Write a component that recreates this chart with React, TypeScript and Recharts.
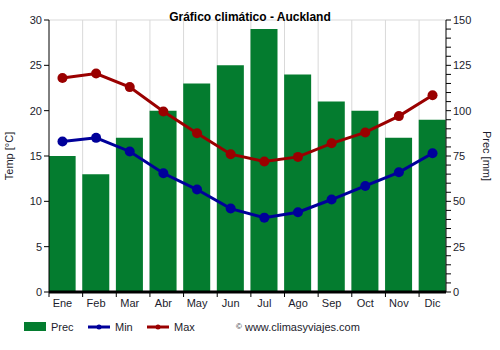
import React from "react";
import {
  ComposedChart,
  Bar,
  Line,
  XAxis,
  YAxis,
  CartesianGrid,
} from "recharts";

const months = ["Ene", "Feb", "Mar", "Abr", "May", "Jun", "Jul", "Ago", "Sep", "Oct", "Nov", "Dic"];
const precip = [75, 65, 85, 100, 115, 125, 145, 120, 105, 100, 85, 95];
const tMin = [16.6, 17.0, 15.5, 13.1, 11.3, 9.2, 8.2, 8.8, 10.2, 11.7, 13.2, 15.3];
const tMax = [23.6, 24.1, 22.6, 19.9, 17.5, 15.2, 14.4, 14.9, 16.4, 17.6, 19.4, 21.7];
const tempTicks = [0, 5, 10, 15, 20, 25, 30];
const precTicks = [0, 5, 10, 15, 20, 25, 30, 35, 40, 45, 50, 55, 60, 65, 70, 75, 80, 85, 90, 95, 100, 105, 110, 115, 120, 125, 130, 135, 140, 145, 150];

const data = months.map((m, i) => ({ idx: i, month: m, prec: precip[i], min: tMin[i], max: tMax[i] }));

const GREEN = "#047c2f";
const NAVY = "#00009a";
const RED = "#9a0000";
const FONT = "'Liberation Sans', Arial, sans-serif";
const TEXT = "#1c1c2c";

// category boundaries sit at the left edge of each bar
const DOMAIN: [number, number] = [-0.4, 11.4];
const boundaries = months.map((_, i) => i - 0.4);
const xTicks = [...months.map((_, i) => i), ...boundaries];

const XTick = (props: any) => {
  const { x, y, payload } = props;
  const v = payload.value;
  if (Number.isInteger(v)) {
    return (
      <text x={x} y={y} dy="0.71em" textAnchor="middle" fontSize={11} fontFamily={FONT} fill={TEXT}>
        {months[v]}
      </text>
    );
  }
  return <line x1={x} x2={x} y1={y - 7} y2={y - 2} stroke="#000" strokeWidth={1} />;
};

const RightTick = (props: any) => {
  const { x, y, payload } = props;
  const v = payload.value;
  const major = v % 25 === 0;
  return (
    <g>
      <line x1={x - 7} x2={x - 2} y1={y} y2={y} stroke="#000" strokeWidth={1} />
      {major && (
        <text x={x} y={y} dy="0.36em" textAnchor="start" fontSize={11} fontFamily={FONT} fill={TEXT}>
          {v}
        </text>
      )}
    </g>
  );
};

export default function App() {
  return (
    <div style={{ position: "absolute", left: 0, top: 0, width: 500, height: 350, background: "#fff", fontFamily: FONT }}>
      <ComposedChart
        width={500}
        height={350}
        data={data}
        margin={{ top: 20, right: 0, bottom: 38, left: 0 }}
      >
        <CartesianGrid
          stroke="#d9d9d9"
          strokeWidth={1}
          verticalCoordinatesGenerator={({ offset }: any) =>
            boundaries
              .slice(1)
              .map((b) => offset.left + ((b - DOMAIN[0]) / (DOMAIN[1] - DOMAIN[0])) * offset.width)
          }
        />
        <XAxis
          dataKey="idx"
          type="number"
          domain={DOMAIN}
          ticks={xTicks}
          allowDataOverflow
          interval={0}
          height={20}
          tickSize={5}
          tickMargin={2}
          tickLine={false}
          tick={<XTick />}
          axisLine={{ stroke: "#000", strokeWidth: 3 }}
        />
        <YAxis
          yAxisId="t"
          orientation="left"
          domain={[0, 30]}
          ticks={tempTicks}
          width={49}
          tickSize={5}
          tickMargin={2}
          interval={0}
          axisLine={{ stroke: "#000" }}
          tickLine={{ stroke: "#000" }}
          tick={{ fontSize: 11, fontFamily: FONT, fill: TEXT }}
        />
        <YAxis
          yAxisId="p"
          orientation="right"
          domain={[0, 150]}
          ticks={precTicks}
          width={54}
          tickSize={5}
          tickMargin={2}
          interval={0}
          axisLine={{ stroke: "#000" }}
          tickLine={false}
          tick={<RightTick />}
        />
        <Bar yAxisId="p" dataKey="prec" fill={GREEN} barSize={27} isAnimationActive={false} />
        <Line
          yAxisId="t"
          dataKey="min"
          stroke={NAVY}
          strokeWidth={3}
          dot={{ r: 5, fill: NAVY, stroke: NAVY, strokeWidth: 0 }}
          activeDot={false}
          isAnimationActive={false}
        />
        <Line
          yAxisId="t"
          dataKey="max"
          stroke={RED}
          strokeWidth={3}
          dot={{ r: 5, fill: RED, stroke: RED, strokeWidth: 0 }}
          activeDot={false}
          isAnimationActive={false}
        />
      </ComposedChart>
      <svg width={500} height={350} style={{ position: "absolute", left: 0, top: 0, pointerEvents: "none" }}>
        <text x={250} y={21} textAnchor="middle" fontSize={12} fontWeight="bold" fontFamily={FONT} fill="#000">
          Gráfico climático - Auckland
        </text>
        <text
          x={0}
          y={0}
          transform="translate(13,156) rotate(-90)"
          textAnchor="middle"
          fontSize={11}
          fontFamily={FONT}
          fill={TEXT}
        >
          Temp [°C]
        </text>
        <text
          x={0}
          y={0}
          transform="translate(483,156) rotate(90)"
          textAnchor="middle"
          fontSize={11}
          fontFamily={FONT}
          fill={TEXT}
        >
          Prec [mm]
        </text>
        <rect x={24} y={322} width={22} height={9} fill={GREEN} />
        <text x={51} y={331} fontSize={11} fontFamily={FONT} fill={TEXT}>Prec</text>
        <line x1={88} x2={110} y1={327} y2={327} stroke={NAVY} strokeWidth={3} />
        <circle cx={99} cy={327} r={2.5} fill={NAVY} />
        <text x={115} y={331} fontSize={11} fontFamily={FONT} fill={TEXT}>Min</text>
        <line x1={147} x2={169} y1={327} y2={327} stroke={RED} strokeWidth={3} />
        <circle cx={158} cy={327} r={2.5} fill={RED} />
        <text x={174} y={331} fontSize={11} fontFamily={FONT} fill={TEXT}>Max</text>
        <text x={236} y={331} fontSize={11} fontFamily={FONT} fill={TEXT}>
          <tspan fontSize={8} dy={-2}>©</tspan>
          <tspan dy={2}> www.climasyviajes.com</tspan>
        </text>
      </svg>
    </div>
  );
}
